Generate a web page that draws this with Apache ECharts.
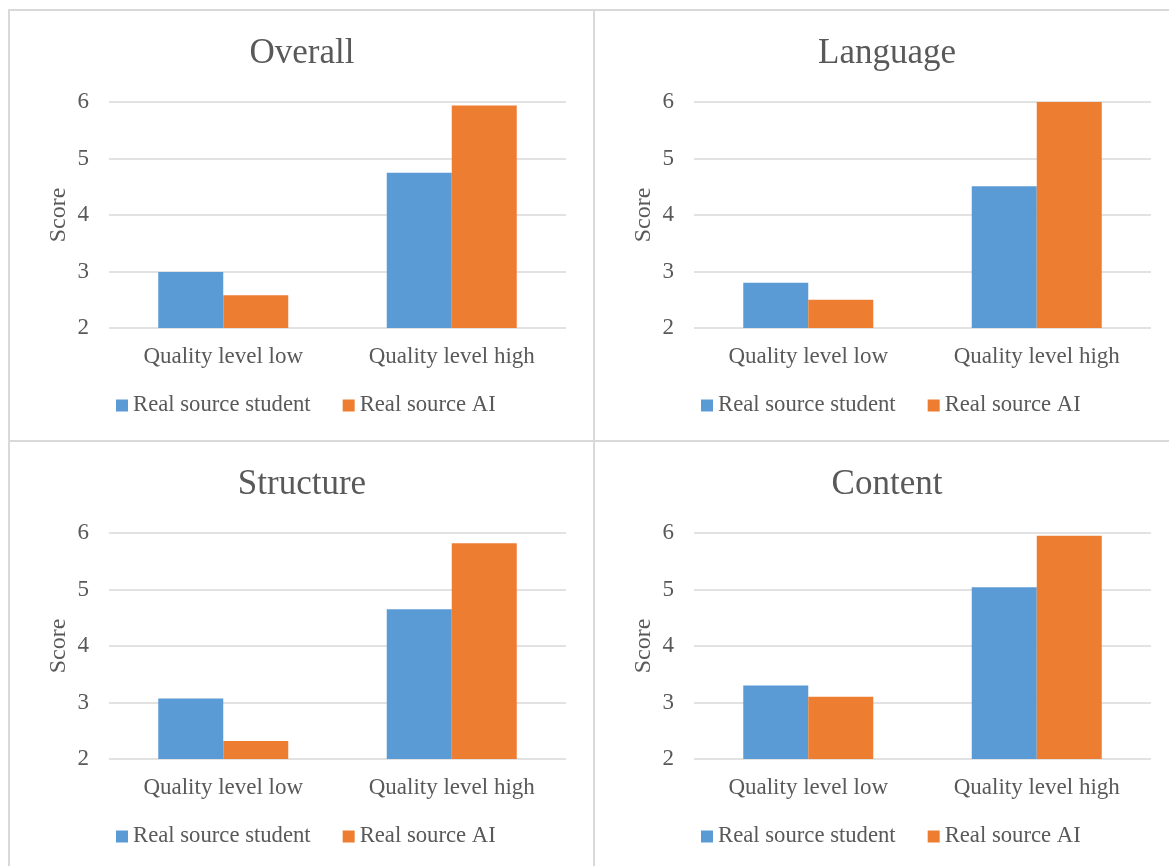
<!DOCTYPE html>
<html>
<head>
<meta charset="utf-8">
<title>Scores by quality level and real source</title>
<script src="https://cdn.jsdelivr.net/npm/echarts@6/dist/echarts.min.js"></script>
<style>
  html, body { margin: 0; padding: 0; background: #ffffff; }
  #chart { width: 1169px; height: 866px; }
</style>
</head>
<body>
<div id="chart"></div>
<script>
// Categories and series names
const categories = ['Quality level low', 'Quality level high'];
const seriesNames = ['Real source student', 'Real source AI'];
const panelTitles = ['Overall', 'Language', 'Structure', 'Content'];

// Mean scores per panel: [low, high]
const overallStudent = [2.99, 4.75];
const overallAI = [2.58, 5.94];
const languageStudent = [2.80, 4.51];
const languageAI = [2.50, 6.00];
const structureStudent = [3.07, 4.65];
const structureAI = [2.32, 5.82];
const contentStudent = [3.30, 5.04];
const contentAI = [3.10, 5.95];

// Value axis range
const yMin = 2;
const yMax = 6;
const yStep = 1;

const panelData = [
  [overallStudent, overallAI],
  [languageStudent, languageAI],
  [structureStudent, structureAI],
  [contentStudent, contentAI]
];

const FONT = "'Liberation Serif', 'Times New Roman', serif";
const TEXT = '#595959';
const LINE = '#d9d9d9';
const COLORS = ['#5B9BD5', '#ED7D31'];

// Panel placement: 2 x 2 layout
const PANEL_X = [9, 594];
const PANEL_Y = [10, 441];
const DX = 585;
const DY = 431;

const titles = [], grids = [], xAxes = [], yAxes = [], legends = [], series = [], graphics = [];

panelTitles.forEach((name, i) => {
  const col = i % 2, row = Math.floor(i / 2);
  const ox = col * DX, oy = row * DY;

  graphics.push({
    type: 'rect',
    shape: { x: PANEL_X[col], y: PANEL_Y[row], width: DX, height: DY },
    style: { fill: 'none', stroke: LINE, lineWidth: 2 },
    silent: true
  });

  titles.push({
    text: name,
    left: 297 + ox,
    top: 31 + oy,
    textAlign: 'center',
    textStyle: { fontFamily: FONT, fontSize: 35, fontWeight: 'normal', color: TEXT }
  });

  grids.push({ left: 109 + ox, top: 102 + oy, width: 457, height: 226, containLabel: false });

  xAxes.push({
    type: 'category',
    gridIndex: i,
    data: categories,
    axisLine: { show: false },
    axisTick: { show: false },
    axisLabel: { fontFamily: FONT, fontSize: 23, color: TEXT, margin: 17 }
  });

  yAxes.push({
    type: 'value',
    gridIndex: i,
    min: yMin,
    max: yMax,
    interval: yStep,
    name: 'Score',
    nameLocation: 'middle',
    nameGap: 38,
    nameRotate: 90,
    nameTextStyle: { fontFamily: FONT, fontSize: 24, color: TEXT },
    axisLine: { show: false },
    axisTick: { show: false },
    axisLabel: { fontFamily: FONT, fontSize: 23, color: TEXT, margin: 20, padding: [4, 0, 0, 0] },
    splitLine: { show: true, lineStyle: { color: LINE, width: 1.5 } }
  });

  legends.push({
    left: 116 + ox,
    top: 394 + oy,
    padding: 0,
    itemWidth: 12,
    itemHeight: 12,
    itemGap: 32,
    icon: 'rect',
    data: seriesNames,
    selectedMode: false,
    textStyle: { fontFamily: FONT, fontSize: 22.7, color: TEXT }
  });

  panelData[i].forEach((values, s) => {
    series.push({
      type: 'bar',
      name: seriesNames[s],
      xAxisIndex: i,
      yAxisIndex: i,
      data: values,
      barWidth: 65,
      barGap: '0%',
      itemStyle: { color: COLORS[s] },
      silent: true
    });
  });
});

const chart = echarts.init(document.getElementById('chart'), null, { renderer: 'canvas' });
chart.setOption({
  backgroundColor: '#ffffff',
  animation: false,
  title: titles,
  grid: grids,
  xAxis: xAxes,
  yAxis: yAxes,
  legend: legends,
  series: series,
  graphic: graphics
});
</script>
</body>
</html>
